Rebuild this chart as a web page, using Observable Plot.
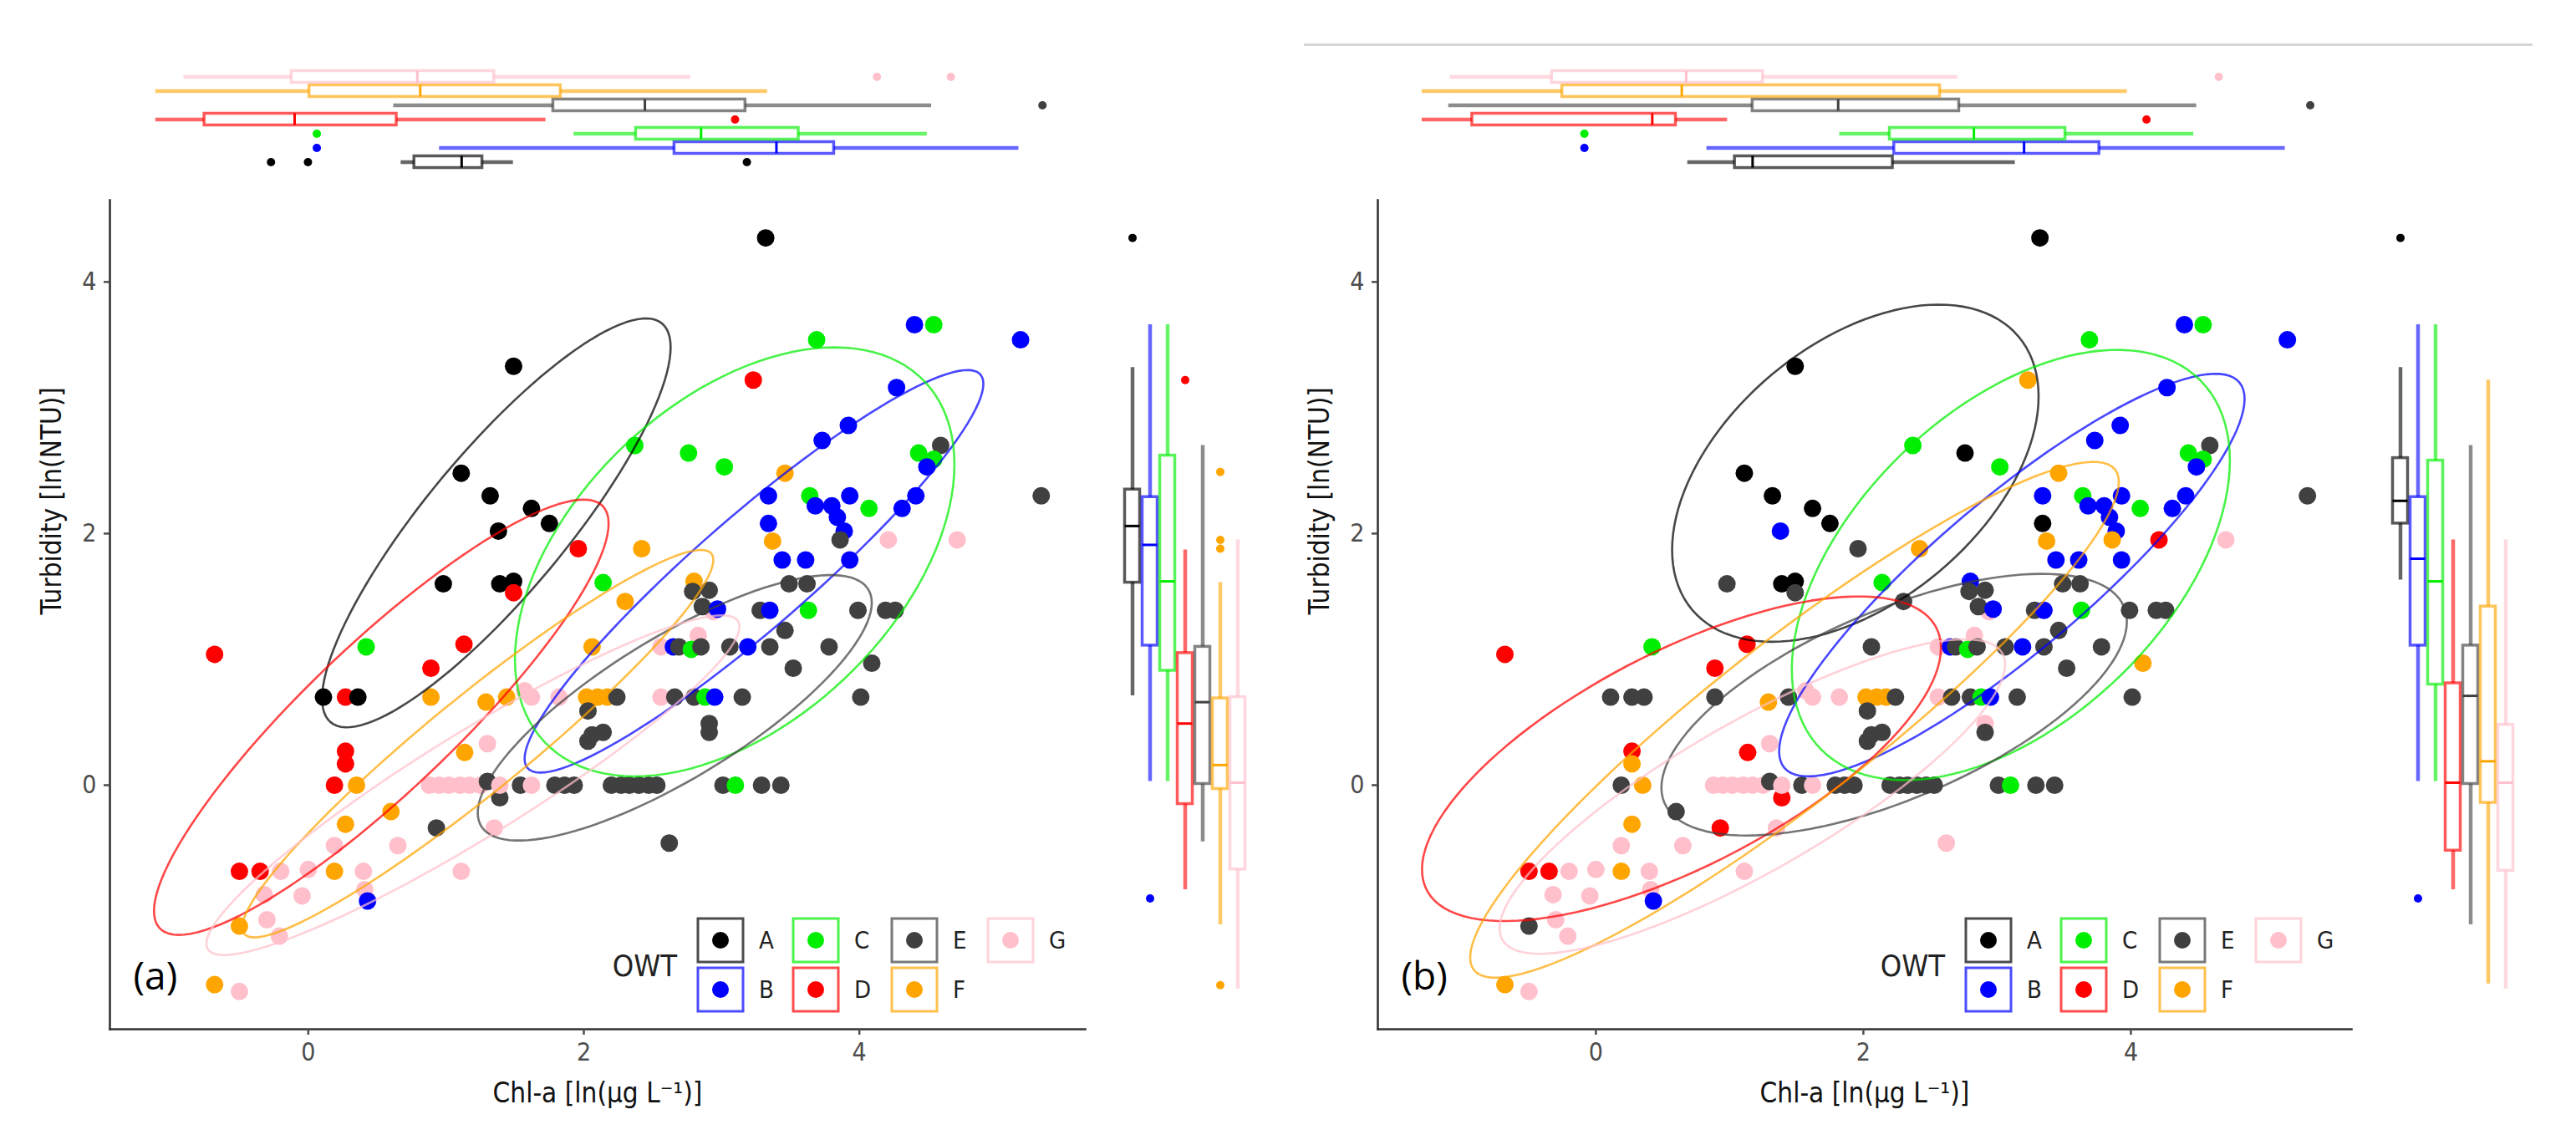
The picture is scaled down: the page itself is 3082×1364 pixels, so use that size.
<!DOCTYPE html>
<html>
<head>
<meta charset="utf-8">
<script src="https://cdn.jsdelivr.net/npm/d3@7"></script>
<script src="https://cdn.jsdelivr.net/npm/@observablehq/plot@0.6"></script>
<style>
  body { margin: 0; background: #fff; }
  #wrap { position: relative; width: 3082px; height: 1364px; overflow: hidden; background: #fff; }
  .abs { position: absolute; }
  .abs svg { overflow: visible; }
</style>
</head>
<body>
<div id="wrap"></div>
<script>
// ---------------- DATA ----------------
const groups = ["A", "B", "C", "D", "E", "F", "G"];
const groupColors = ["#000000", "#0000FF", "#00EE00", "#FF0000", "#404040", "#FFA500", "#FFC0CB"];

// Chl-a [ln(µg L-1)] and Turbidity [ln(NTU)] of each sample
const chl = [
  3.32, 1.49, 4.40, 4.54, 5.17, 3.69, 3.23, 4.27, 3.92, 3.73,
  2.37, 2.76, 3.02, 4.59, 4.43, 4.54, 4.49, 3.46, 1.11, 1.32,
  3.34, 3.64, 3.68, 3.80, 3.93, 3.84, 3.89, 4.07, 4.41, 4.31,
  5.32, 1.62, 1.75, 1.38, 3.34, 1.96, 3.37, 3.86, 4.21, 4.71,
  2.42, 3.44, 3.61, 3.93, 0.98, 1.39, 1.49, 1.49, 2.14, 2.80,
  2.91, 2.79, 2.30, 3.49, 3.62, 3.28, 3.35, 3.63, 3.99, 4.19,
  4.26, 2.94, 2.86, 2.97, 3.46, 2.83, 2.56, 2.65, 2.69, 2.78,
  2.85, 3.06, 3.19, 3.35, 3.78, 4.09, 3.52, 2.02, 2.10, 2.17,
  2.24, 2.56, 2.66, 2.80, 2.88, 2.95, 3.15, 4.01, 2.14, 2.91,
  2.91, 2.20, 2.27, 2.33, 2.40, 2.47, 2.53, 3.01, 3.10, 3.29,
  3.43, 2.62, -0.68, 0.42, 1.13, 0.89, 0.11, 0.27, 0.36, 0.89,
  1.29, 1.44, 1.57, 1.62, 1.82, 2.06, 2.03, 2.06, 2.03, 0.27,
  0.27, 0.19, 0.35, 1.30, 1.135, 0.88, 0.95, 1.02, 1.10, 1.17,
  1.25, 1.30, 1.39, 1.39, 1.54, 1.62, 1.79, 1.86, 1.93, 0.60,
  0.27, 0.93, 0.65, 0.19, 1.35, -0.50, -0.35, -0.20, 0.00, 0.19,
  0.40, 1.11, -0.32, -0.045, 0.41, 0.43, -0.50, -0.30, -0.21, -0.68,
  -0.50
];
const turb = [
  4.35, 3.33, 3.66, 3.66, 3.54, 3.54, 3.22, 3.16, 2.86, 2.74,
  2.70, 2.64, 2.53, 2.70, 2.64, 2.59, 2.53, 2.48, 2.48, 2.30,
  2.30, 2.30, 2.22, 2.22, 2.30, 2.13, 2.02, 2.20, 2.30, 2.20,
  2.30, 2.20, 2.08, 2.02, 2.08, 1.88, 1.94, 1.95, 1.95, 1.95,
  1.88, 1.79, 1.79, 1.79, 1.60, 1.60, 1.62, 1.53, 1.61, 1.62,
  1.55, 1.54, 1.46, 1.60, 1.60, 1.39, 1.39, 1.39, 1.39, 1.39,
  1.39, 1.38, 1.42, 1.40, 1.23, 1.19, 1.10, 1.10, 1.10, 1.08,
  1.10, 1.10, 1.10, 1.10, 1.10, 0.97, 0.93, 0.70, 0.70, 0.70,
  0.70, 0.70, 0.70, 0.70, 0.70, 0.70, 0.70, 0.70, 0.42, 0.49,
  0.42, 0, 0, 0, 0, 0, 0, 0, 0, 0,
  0, -0.46, 1.04, 1.10, 1.12, 0.93, 0.70, 0.70, 0.70, 0.70,
  0.66, 0.70, 0.75, 0.70, 0.70, 1.10, 0.59, 0.40, 0.35, 0.27,
  0.17, 0, 0, 0.33, 0.26, 0, 0, 0, 0, 0,
  0, 0.03, -0.10, 0, 0, 0, 0, 0, 0, -0.21,
  -0.31, -0.34, -0.48, -0.48, -0.34, -0.685, -0.685, -0.685, -0.67, -0.685,
  -0.685, -0.685, -0.87, -0.88, -0.83, -0.92, -1.12, -1.07, -1.20, -1.585,
  -1.64
];
// optical water type of each sample, classification (a) and (b)
const owtA = [
  "A","A","B","C","B","C","D","B","B","B",
  "C","C","C","E","C","C","B","F","A","A",
  "B","C","B","B","B","B","B","C","B","B",
  "E","A","A","A","B","D","F","E","G","G",
  "F","B","B","B","A","A","A","D","C","F",
  "E","E","F","E","E","E","B","C","E","E",
  "E","G","E","B","E","G","G","B","E","C",
  "E","E","B","E","E","E","E","F","F","F",
  "E","G","E","E","C","B","E","E","E","E",
  "E","E","E","E","E","E","E","E","C","E",
  "E","E","D","C","D","D","A","D","A","F",
  "F","F","G","G","G","F","E","E","E","D",
  "D","D","F","G","F","G","G","G","G","G",
  "G","E","E","G","E","G","E","E","E","F",
  "F","E","G","G","G","D","D","G","G","F",
  "G","G","G","G","G","B","F","G","G","F",
  "G"
];
const owtB = [
  "A","A","B","C","B","C","F","B","B","B",
  "C","A","C","E","C","C","B","F","A","A",
  "B","C","B","B","B","B","B","C","B","B",
  "E","A","A","B","A","E","F","F","D","G",
  "F","B","B","B","E","A","A","E","C","B",
  "E","E","E","E","E","E","B","C","E","E",
  "E","G","E","B","E","G","G","B","E","C",
  "E","E","B","E","E","F","E","F","F","F",
  "E","G","E","E","C","B","E","E","E","G",
  "E","E","E","E","E","E","E","E","C","E",
  "E","G","D","C","D","D","E","E","E","E",
  "F","E","G","G","G","E","E","E","E","D",
  "F","E","F","G","D","G","G","G","G","G",
  "G","E","D","G","E","G","E","E","E","E",
  "F","D","G","G","G","D","D","G","G","F",
  "G","G","G","G","G","B","E","G","G","F",
  "G"
];

// 95% ellipses per OWT: [xmin, xmax, ymin, ymax, y at xmax]
const ellipseA = [
  [0.10, 2.63, 0.46, 3.71, 3.48],
  [1.57, 4.90, 0.10, 3.30, 3.19],
  [1.50, 4.69, 0.07, 3.48, 2.55],
  [-1.12, 2.18, -1.19, 2.27, 2.08],
  [1.23, 4.09, -0.44, 1.67, 1.45],
  [-0.48, 2.94, -1.21, 1.87, 1.79],
  [-0.74, 3.13, -1.35, 1.35, 1.26]
];
const ellipseB = [
  [0.57, 3.31, 1.14, 3.82, 3.09],
  [1.37, 4.85, 0.07, 3.27, 3.07],
  [1.465, 4.74, 0.04, 3.46, 2.58],
  [-1.30, 2.58, -1.08, 1.50, 1.09],
  [0.49, 3.97, -0.40, 1.68, 1.30],
  [-0.94, 3.91, -1.53, 2.57, 2.41],
  [-0.72, 3.06, -1.34, 1.16, 0.96]
];

// marginal boxplots: [lower whisker, Q1, median, Q3, upper whisker] per OWT A..G
const chlBoxA = [
  [0.99, 1.08, 1.40, 1.54, 1.75],
  [1.25, 2.84, 3.53, 3.92, 5.17],
  [2.16, 2.58, 3.02, 3.68, 4.55],
  [-0.67, -0.34, 0.27, 0.96, 1.97],
  [0.94, 2.02, 2.64, 3.32, 4.58],
  [-0.67, 0.37, 1.12, 2.07, 3.47],
  [-0.48, 0.25, 1.10, 1.62, 2.95]
];
const chlOutGroupA = ["A", "A", "A", "B", "C", "D", "E", "G", "G"];
const chlOutValA = [0.11, 0.36, 3.33, 0.42, 0.42, 3.25, 5.33, 4.21, 4.71];

const chlBoxB = [
  [1.12, 1.44, 1.56, 2.51, 3.34],
  [1.25, 2.52, 3.40, 3.91, 5.17],
  [2.15, 2.49, 3.06, 3.68, 4.55],
  [-0.68, -0.34, 0.88, 1.04, 1.39],
  [-0.50, 1.56, 2.14, 2.96, 4.57],
  [-0.68, 0.27, 1.08, 2.83, 4.10],
  [-0.49, 0.20, 1.11, 1.63, 2.95]
];
const chlOutGroupB = ["B", "C", "D", "E", "G"];
const chlOutValB = [0.42, 0.42, 4.23, 5.34, 4.72];

const turbBoxA = [
  [0.71, 1.61, 2.06, 2.35, 3.32],
  [0.03, 1.11, 1.91, 2.29, 3.66],
  [0.03, 0.91, 1.62, 2.62, 3.66],
  [-0.83, -0.15, 0.49, 1.05, 1.87],
  [-0.45, 0.01, 0.66, 1.10, 2.70],
  [-1.11, -0.03, 0.16, 0.69, 1.61],
  [-1.62, -0.67, 0.02, 0.70, 1.95]
];
const turbOutGroupA = ["A", "B", "D", "F", "F", "F", "F"];
const turbOutValA = [4.35, -0.90, 3.22, 2.49, 1.95, 1.88, -1.59];

const turbBoxB = [
  [1.63, 2.08, 2.26, 2.60, 3.32],
  [0.03, 1.11, 1.80, 2.29, 3.66],
  [0.03, 0.80, 1.62, 2.58, 3.66],
  [-0.83, -0.52, 0.02, 0.81, 1.95],
  [-1.11, 0.01, 0.71, 1.11, 2.70],
  [-1.58, -0.14, 0.19, 1.42, 3.22],
  [-1.62, -0.68, 0.02, 0.48, 1.95]
];
const turbOutGroupB = ["A", "B"];
const turbOutValB = [4.35, -0.90];

const xTicks = [0, 2, 4];
const yTicks = [0, 2, 4];
const xTitle = "Chl-a [ln(µg L⁻¹)]";
const yTitle = "Turbidity [ln(NTU)]";
const legendTitle = "OWT";

// ---------------- DRAWING ----------------
const FONT = "'Liberation Sans Narrow','DejaVu Sans Condensed','Arial Narrow',Arial,sans-serif";
const wrap = document.getElementById("wrap");
const colorScale = { domain: groups, range: groupColors };
const yDomain = [-1.94, 4.65];
const margXDomain = [-0.98, 5.62];
const intFmt = d3.format("d");

function place(node, left, top, width, height) {
  const d = document.createElement("div");
  d.className = "abs";
  d.style.left = left + "px";
  d.style.top = top + "px";
  d.style.width = width + "px";
  d.style.height = height + "px";
  d.appendChild(node);
  wrap.appendChild(d);
}

function ellipsePoints(ext) {
  const out = [];
  groups.forEach((g, i) => {
    const [x0, x1, y0, y1, yr] = ext[i];
    const cx = (x0 + x1) / 2, w = (x1 - x0) / 2, cy = (y0 + y1) / 2, h = (y1 - y0) / 2;
    const dy = yr - cy, e = Math.sqrt(Math.max(h * h - dy * dy, 0));
    for (let k = 0; k <= 120; k++) {
      const t = 2 * Math.PI * k / 120;
      out.push({ g, x: cx + w * Math.cos(t), y: cy + dy * Math.cos(t) + e * Math.sin(t) });
    }
  });
  return out;
}

function boxRows(stats) {
  return groups.map((g, i) => ({ g, wlo: stats[i][0], q1: stats[i][1], med: stats[i][2], q3: stats[i][3], whi: stats[i][4] }));
}
function outRows(gs, vs) { return gs.map((g, i) => ({ g, v: vs[i] })); }

const panels = [
  { left: 0, width: 1330, ml: 131, mr: 32, xDom: [-1.44, 5.64], owt: owtA, ell: ellipseA,
    topBox: chlBoxA, topOut: outRows(chlOutGroupA, chlOutValA),
    rBox: turbBoxA, rOut: outRows(turbOutGroupA, turbOutValA), rLeft: 1330, rml: 13.4, rmr: 38.4, tag: "(a)" },
  { left: 1560, width: 1290, ml: 88, mr: 37, xDom: [-1.63, 5.65], owt: owtB, ell: ellipseB,
    topBox: chlBoxB, topOut: outRows(chlOutGroupB, chlOutValB),
    rBox: turbBoxB, rOut: outRows(turbOutGroupB, turbOutValB), rLeft: 2850, rml: 10.5, rmr: 42.5, tag: "(b)" }
];

// thin grey rule above panel (b)
const hr = document.createElement("div");
hr.className = "abs";
Object.assign(hr.style, { left: "1560px", top: "52px", width: "1470px", height: "3px", background: "#d6d6d6" });
wrap.appendChild(hr);

panels.forEach(p => {
  const pts = chl.map((x, i) => ({ x, y: turb[i], g: p.owt[i] }));
  const ell = ellipsePoints(p.ell);

  // main scatter
  const main = Plot.plot({
    width: p.width, height: 1134,
    marginLeft: p.ml, marginRight: p.mr, marginTop: 9, marginBottom: 133,
    x: { domain: p.xDom },
    y: { domain: yDomain },
    color: colorScale,
    style: { background: "transparent", fontFamily: FONT, overflow: "visible" },
    marks: [
      Plot.dot(pts, { x: "x", y: "y", fill: "g", r: 10.5 }),
      Plot.line(ell, { x: "x", y: "y", z: "g", stroke: "g", strokeWidth: 2.6, strokeOpacity: 0.72 }),
      Plot.frame({ anchor: "left", stroke: "#333", strokeWidth: 2.6 }),
      Plot.frame({ anchor: "bottom", stroke: "#333", strokeWidth: 2.6 }),
      Plot.axisX({ ticks: xTicks, tickFormat: intFmt, tickSize: 7, tickPadding: 9, fontSize: 30, color: "#4d4d4d", strokeWidth: 2.5, label: null }),
      Plot.axisY({ ticks: yTicks, tickFormat: intFmt, tickSize: 7, tickPadding: 9, fontSize: 30, color: "#4d4d4d", strokeWidth: 2.5, label: null }),
      Plot.text([xTitle], { text: d => d, frameAnchor: "bottom", dy: 87, fontSize: 33, fill: "#111" }),
      Plot.text([yTitle], { text: d => d, frameAnchor: "left", dx: -69, rotate: -90, fontSize: 33, fill: "#111" }),
      Plot.text([p.tag], { text: d => d, frameAnchor: "bottom-left", dx: 28, dy: -48, textAnchor: "start",
        fontSize: 46, fontFamily: "'Open Sans',Lato,sans-serif", fill: "#000" })
    ]
  });
  place(main, p.left, 230, p.width, 1134);

  // top marginal boxplots (Chl-a)
  const top = Plot.plot({
    width: p.width, height: 230,
    marginLeft: p.ml, marginRight: p.mr, marginTop: 80, marginBottom: 25,
    axis: null,
    x: { domain: margXDomain },
    y: { type: "band", domain: groups.slice().reverse(), padding: 0 },
    color: colorScale,
    style: { background: "transparent", overflow: "visible" },
    marks: [
      Plot.ruleY(boxRows(p.topBox), { y: "g", x1: "wlo", x2: "whi", stroke: "g", strokeWidth: 4.5, strokeOpacity: 0.6 }),
      Plot.barX(boxRows(p.topBox), { y: "g", x1: "q1", x2: "q3", fill: "white", stroke: "g", strokeWidth: 3.5, strokeOpacity: 0.65, insetTop: 1.5, insetBottom: 1.5 }),
      Plot.tickX(boxRows(p.topBox), { y: "g", x: "med", stroke: "g", strokeWidth: 3, insetTop: 1.5, insetBottom: 1.5 }),
      Plot.dot(p.topOut, { y: "g", x: "v", fill: "g", r: 5 })
    ]
  });
  place(top, p.left, 0, p.width, 230);

  // right marginal boxplots (Turbidity)
  const right = Plot.plot({
    width: 200, height: 1134,
    marginLeft: p.rml, marginRight: p.rmr, marginTop: 9, marginBottom: 133,
    axis: null,
    x: { type: "band", domain: groups, padding: 0 },
    y: { domain: yDomain },
    color: colorScale,
    style: { background: "transparent", overflow: "visible" },
    marks: [
      Plot.ruleX(boxRows(p.rBox), { x: "g", y1: "wlo", y2: "whi", stroke: "g", strokeWidth: 4.5, strokeOpacity: 0.6 }),
      Plot.barY(boxRows(p.rBox), { x: "g", y1: "q1", y2: "q3", fill: "white", stroke: "g", strokeWidth: 3.5, strokeOpacity: 0.65, insetLeft: 1.5, insetRight: 1.5 }),
      Plot.tickY(boxRows(p.rBox), { x: "g", y: "med", stroke: "g", strokeWidth: 3, insetLeft: 1.5, insetRight: 1.5 }),
      Plot.dot(p.rOut, { x: "g", y: "v", fill: "g", r: 5 })
    ]
  });
  place(right, p.rLeft, 230, 200, 1134);

  // legend (inside plot area, bottom right)
  const lgLeft = p.left + p.ml + 540, lgTop = 1085;
  const svg = d3.create("svg").attr("width", 620).attr("height", 140)
    .style("overflow", "visible").style("font-family", FONT);
  svg.append("text").attr("x", 139).attr("y", 70).attr("text-anchor", "end")
    .attr("dominant-baseline", "central").attr("font-size", 36).attr("fill", "#222").text(legendTitle);
  const colX = [191, 305, 423, 538], rowY = [40, 99];
  groups.forEach((g, i) => {
    const cx = colX[Math.floor(i / 2)], cy = rowY[i % 2];
    svg.append("rect").attr("x", cx - 27).attr("y", cy - 26).attr("width", 54).attr("height", 52)
      .attr("fill", "white").attr("stroke", groupColors[i]).attr("stroke-opacity", 0.7).attr("stroke-width", 3);
    svg.append("circle").attr("cx", cx).attr("cy", cy).attr("r", 10).attr("fill", groupColors[i]);
    svg.append("text").attr("x", cx + 46).attr("y", cy).attr("dominant-baseline", "central")
      .attr("font-size", 29).attr("fill", "#222").text(g);
  });
  place(svg.node(), lgLeft, lgTop, 620, 140);
});
</script>
</body>
</html>
